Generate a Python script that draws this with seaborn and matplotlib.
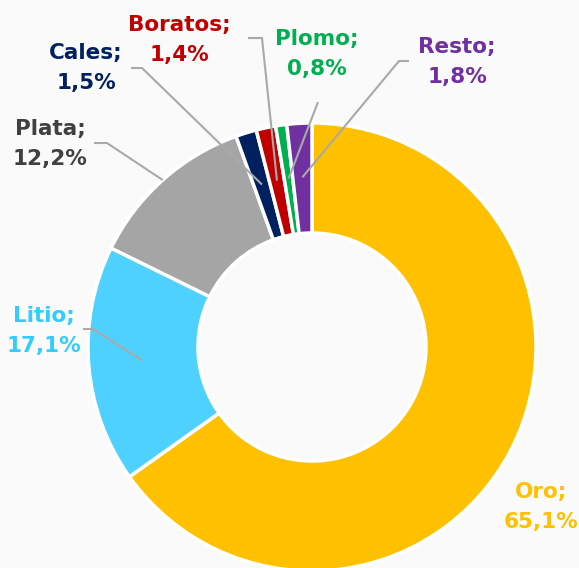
import matplotlib
matplotlib.use("Agg")
import matplotlib.pyplot as plt
import seaborn as sns
import numpy as np

# Data
categories = ["Oro", "Litio", "Plata", "Cales", "Boratos", "Plomo", "Resto"]
shares = [65.1, 17.1, 12.2, 1.5, 1.4, 0.8, 1.8]
slice_colors = ["#FFC000", "#4FD1FF", "#A5A5A5", "#002060", "#C00000", "#00B050", "#7030A0"]
text_colors = ["#FFC000", "#33CCFF", "#404040", "#002060", "#C00000", "#00B050", "#7030A0"]

sns.set_theme(style="white")
plt.rcParams["font.family"] = ["DejaVu Sans"]

W, H = 579, 568
bg = "#FAFAFA"

# label placement in pixel coords (y from top)
label_pos = {"Oro": (541, 507), "Litio": (44, 331), "Plata": (50, 144),
             "Cales": (86, 68), "Boratos": (179, 40), "Plomo": (317, 54),
             "Resto": (457, 62)}
# leader line start/elbow points (y from top)
leaders = {"Litio": [(83, 329), (93, 329)], "Plata": [(94, 143), (107, 143)],
           "Cales": [(131, 68), (142, 68)], "Boratos": [(248, 38), (262, 38)],
           "Plomo": [(318, 102)], "Resto": [(409, 61), (399, 61)]}

fig = plt.figure(figsize=(W / 100, H / 100), dpi=100, facecolor=bg)
ax = fig.add_axes([0, 0, 1, 1])
ax.set_facecolor(bg)

cx, cy = 312, H - 347
R, r_in = 224, 114
wedges, _ = ax.pie(shares, colors=slice_colors, radius=R, center=(cx, cy),
                   startangle=90, counterclock=False,
                   wedgeprops=dict(width=R - r_in, edgecolor="white", linewidth=2.5))

for w, cat, share, tc in zip(wedges, categories, shares, text_colors):
    mid = np.deg2rad((w.theta1 + w.theta2) / 2)
    if cat in leaders:
        rr = R if cat == "Plata" else (R + r_in) / 2 + 1
        end = (cx + rr * np.cos(mid), cy + rr * np.sin(mid))
        pts = [(x, H - y) for x, y in leaders[cat]] + [end]
        xs, ys = zip(*pts)
        ax.plot(xs, ys, color="#A9A9A9", lw=1.5, solid_capstyle="butt", zorder=3)
    lx, ly = label_pos[cat]
    txt = f"{cat};\n{share:.1f}%".replace(".", ",")
    ax.text(lx, H - ly, txt, color=tc, fontsize=15.5, fontweight="bold",
            ha="center", va="center", multialignment="center", linespacing=1.6)

ax.set_xlim(0, W)
ax.set_ylim(0, H)
ax.set_aspect("equal")
ax.axis("off")

fig.savefig("out.png", dpi=100, facecolor=bg)
